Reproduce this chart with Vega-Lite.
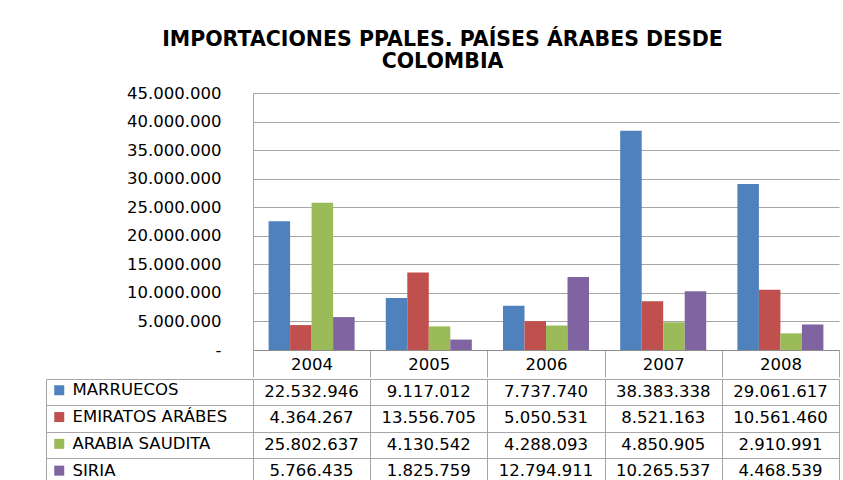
{
  "$schema": "https://vega.github.io/schema/vega-lite/v6.json",
  "background": "white",
  "padding": {"left": 45, "top": 29, "right": 5, "bottom": 0},
  "title": {
    "text": ["IMPORTACIONES PPALES. PAÍSES ÁRABES DESDE", "COLOMBIA"],
    "font": "DejaVu Sans",
    "fontSize": 20.5,
    "fontWeight": "bold",
    "color": "#000000",
    "lineHeight": 22,
    "anchor": "middle",
    "offset": 13
  },
  "config": {
    "locale": {"number": {"decimal": ",", "thousands": ".", "grouping": [3], "currency": ["$", ""]}},
    "font": "DejaVu Sans",
    "view": {"stroke": null},
    "concat": {"spacing": 0}
  },
  "data": {
    "values": [
      {"anio": "2004", "pais": "MARRUECOS", "valor": 22532946},
      {"anio": "2004", "pais": "EMIRATOS ARÁBES", "valor": 4364267},
      {"anio": "2004", "pais": "ARABIA SAUDITA", "valor": 25802637},
      {"anio": "2004", "pais": "SIRIA", "valor": 5766435},
      {"anio": "2005", "pais": "MARRUECOS", "valor": 9117012},
      {"anio": "2005", "pais": "EMIRATOS ARÁBES", "valor": 13556705},
      {"anio": "2005", "pais": "ARABIA SAUDITA", "valor": 4130542},
      {"anio": "2005", "pais": "SIRIA", "valor": 1825759},
      {"anio": "2006", "pais": "MARRUECOS", "valor": 7737740},
      {"anio": "2006", "pais": "EMIRATOS ARÁBES", "valor": 5050531},
      {"anio": "2006", "pais": "ARABIA SAUDITA", "valor": 4288093},
      {"anio": "2006", "pais": "SIRIA", "valor": 12794911},
      {"anio": "2007", "pais": "MARRUECOS", "valor": 38383338},
      {"anio": "2007", "pais": "EMIRATOS ARÁBES", "valor": 8521163},
      {"anio": "2007", "pais": "ARABIA SAUDITA", "valor": 4850905},
      {"anio": "2007", "pais": "SIRIA", "valor": 10265537},
      {"anio": "2008", "pais": "MARRUECOS", "valor": 29061617},
      {"anio": "2008", "pais": "EMIRATOS ARÁBES", "valor": 10561460},
      {"anio": "2008", "pais": "ARABIA SAUDITA", "valor": 2910991},
      {"anio": "2008", "pais": "SIRIA", "valor": 4468539}
    ]
  },
  "resolve": {"scale": {"color": "independent"}, "legend": {"color": "independent"}},
  "vconcat": [
    {
      "width": 586,
      "height": 257,
      "mark": {"type": "bar"},
      "encoding": {
        "x": {
          "field": "anio", "type": "nominal",
          "scale": {"paddingInner": 0, "paddingOuter": 0},
          "axis": {
            "title": null, "labelAngle": 0, "grid": false,
            "tickBand": "extent", "tickSize": 27, "tickColor": "#a6a6a6",
            "domainColor": "#8c8c8c",
            "labelPadding": -13, "labelBaseline": "middle",
            "labelFontSize": 16.5, "labelFont": "DejaVu Sans", "labelColor": "#000000"
          }
        },
        "xOffset": {
          "field": "pais", "type": "nominal",
          "sort": ["MARRUECOS", "EMIRATOS ARÁBES", "ARABIA SAUDITA", "SIRIA"],
          "scale": {"paddingInner": 0, "paddingOuter": 0.725}
        },
        "y": {
          "field": "valor", "type": "quantitative",
          "scale": {"domain": [0, 45000000], "nice": false},
          "axis": {
            "title": null,
            "values": [0, 5000000, 10000000, 15000000, 20000000, 25000000, 30000000, 35000000, 40000000, 45000000],
            "format": ",d",
            "labelExpr": "datum.value === 0 ? '-\u00a0\u00a0' : datum.label",
            "ticks": false, "labelPadding": 32,
            "grid": true, "gridColor": "#a6a6a6",
            "domain": true, "domainColor": "#a6a6a6",
            "labelFontSize": 16.5, "labelFont": "DejaVu Sans", "labelColor": "#000000"
          }
        },
        "color": {
          "field": "pais", "type": "nominal",
          "scale": {
            "domain": ["MARRUECOS", "EMIRATOS ARÁBES", "ARABIA SAUDITA", "SIRIA"],
            "range": ["#4F81BD", "#C0504D", "#9BBB59", "#8064A2"]
          },
          "legend": null
        }
      }
    },
    {
      "width": 586,
      "height": 105,
      "layer": [
        {
          "mark": {"type": "text", "fontSize": 16.5, "font": "DejaVu Sans", "color": "#000000", "baseline": "middle"},
          "encoding": {
            "x": {
              "field": "anio", "type": "nominal",
              "scale": {"paddingInner": 0, "paddingOuter": 0},
              "axis": {"title": null, "labels": false, "ticks": false, "domain": false, "grid": true, "tickBand": "extent", "gridColor": "#a6a6a6"}
            },
            "y": {
              "field": "pais", "type": "nominal",
              "sort": ["MARRUECOS", "EMIRATOS ARÁBES", "ARABIA SAUDITA", "SIRIA"],
              "scale": {"paddingInner": 0, "paddingOuter": 0},
              "axis": {
                "title": null, "labels": false, "grid": true, "tickBand": "extent", "gridColor": "#a6a6a6",
                "offset": 207, "tickSize": -207, "tickColor": "#a6a6a6",
                "domain": true, "domainColor": "#a6a6a6"
              }
            },
            "text": {"field": "valor", "type": "quantitative", "format": ",d"}
          }
        },
        {
          "mark": {"type": "square", "opacity": 0},
          "encoding": {
            "y": {"field": "pais", "type": "nominal", "sort": ["MARRUECOS", "EMIRATOS ARÁBES", "ARABIA SAUDITA", "SIRIA"]},
            "color": {
              "field": "pais", "type": "nominal",
              "sort": ["MARRUECOS", "EMIRATOS ARÁBES", "ARABIA SAUDITA", "SIRIA"],
              "scale": {
                "domain": ["MARRUECOS", "EMIRATOS ARÁBES", "ARABIA SAUDITA", "SIRIA"],
                "range": ["#4F81BD", "#C0504D", "#9BBB59", "#8064A2"]
              },
              "legend": {
                "orient": "none", "legendX": -202, "legendY": 3,
                "title": null, "symbolType": "square", "symbolSize": 100,
                "symbolOpacity": 1, "symbolStrokeWidth": 0,
                "labelFontSize": 16.5, "labelFont": "DejaVu Sans", "labelColor": "#000000",
                "rowPadding": 9.8, "padding": 0, "labelOffset": 5
              }
            }
          }
        }
      ]
    }
  ]
}
